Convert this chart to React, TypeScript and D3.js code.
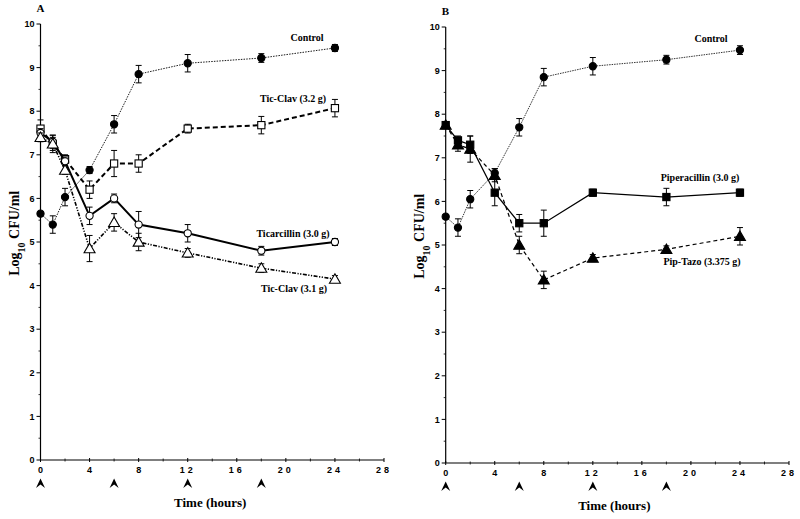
import React from "react";
import * as d3 from "d3";

const times = [0, 1, 2, 4, 6, 8, 12, 18, 24];
const doseTimes = [0, 6, 12, 18];
const xTicks = [0, 4, 8, 12, 16, 20, 24, 28];
const yTicks = [0, 1, 2, 3, 4, 5, 6, 7, 8, 9, 10];

// Panel A
const aControl = [5.65, 5.4, 6.03, 6.65, 7.7, 8.85, 9.1, 9.22, 9.45];
const aControlErr = [0.05, 0.2, 0.2, 0.08, 0.2, 0.2, 0.2, 0.1, 0.08];
const aTicClav32 = [7.6, 7.25, 6.9, 6.2, 6.8, 6.8, 7.6, 7.68, 8.07];
const aTicClav32Err = [0.2, 0.2, 0.1, 0.2, 0.3, 0.2, 0.1, 0.2, 0.2];
const aTicar = [7.5, 7.3, 6.85, 5.6, 6.0, 5.4, 5.2, 4.8, 5.0];
const aTicarErr = [0.1, 0.15, 0.1, 0.2, 0.1, 0.3, 0.2, 0.1, 0.08];
const aTicClav31 = [7.4, 7.25, 6.65, 4.85, 5.45, 5.0, 4.75, 4.4, 4.15];
const aTicClav31Err = [0.1, 0.15, 0.1, 0.3, 0.2, 0.2, 0.1, 0.1, 0.08];

// Panel B
const bControl = [5.65, 5.4, 6.05, 6.65, 7.7, 8.85, 9.1, 9.25, 9.47];
const bControlErr = [0.05, 0.2, 0.2, 0.1, 0.2, 0.2, 0.2, 0.1, 0.1];
const bPip = [7.75, 7.4, 7.3, 6.2, 5.5, 5.5, 6.2, 6.1, 6.2];
const bPipErr = [0.05, 0.1, 0.2, 0.3, 0.2, 0.3, 0.08, 0.2, 0.08];
const bPipTazo = [7.75, 7.3, 7.2, 6.6, 5.0, 4.2, 4.7, 4.9, 5.2];
const bPipTazoErr = [0.05, 0.15, 0.3, 0.15, 0.2, 0.2, 0.08, 0.08, 0.2];

type Series = {
  values: number[];
  errs: number[];
  marker: "circle" | "square" | "triangle";
  fill: string;
  dash: string;
  width: number;
  label: string;
  lx: number;
  ly: number;
};

type Panel = {
  letter: string;
  x0: number;
  x1: number;
  yTop: number;
  yBot: number;
  titleShift: number;
  series: Series[];
};

const panels: Panel[] = [
  {
    letter: "A",
    x0: 40.5,
    x1: 384,
    yTop: 24,
    yBot: 460,
    titleShift: -2,
    series: [
      { values: aControl, errs: aControlErr, marker: "circle", fill: "#000", dash: "1.5,1.2", width: 0.9, label: "Control", lx: 307, ly: 37 },
      { values: aTicClav32, errs: aTicClav32Err, marker: "square", fill: "#fff", dash: "5,3", width: 2, label: "Tic-Clav (3.2 g)", lx: 293, ly: 98 },
      { values: aTicar, errs: aTicarErr, marker: "circle", fill: "#fff", dash: "", width: 2, label: "Ticarcillin (3.0 g)", lx: 293, ly: 233 },
      { values: aTicClav31, errs: aTicClav31Err, marker: "triangle", fill: "#fff", dash: "4,1.5,1.2,1.5,1.2,1.5", width: 1.6, label: "Tic-Clav (3.1 g)", lx: 294, ly: 288 },
    ],
  },
  {
    letter: "B",
    x0: 445.7,
    x1: 789,
    yTop: 27,
    yBot: 463,
    titleShift: -3,
    series: [
      { values: bControl, errs: bControlErr, marker: "circle", fill: "#000", dash: "1.5,1", width: 0.8, label: "Control", lx: 711, ly: 38 },
      { values: bPip, errs: bPipErr, marker: "square", fill: "#000", dash: "", width: 1.3, label: "Piperacillin (3.0 g)", lx: 700, ly: 177 },
      { values: bPipTazo, errs: bPipTazoErr, marker: "triangle", fill: "#000", dash: "4,3", width: 1.2, label: "Pip-Tazo (3.375 g)", lx: 702, ly: 261 },
    ],
  },
];

const serif = "'Liberation Serif', 'Times New Roman', serif";
const sans = "'Liberation Sans', Arial, sans-serif";

function Marker({ type, x, y, fill }: { type: string; x: number; y: number; fill: string }) {
  if (type === "circle") return <circle cx={x} cy={y} r={3.6} fill={fill} stroke="#000" strokeWidth={1.1} />;
  if (type === "square") return <rect x={x - 3.6} y={y - 3.6} width={7.2} height={7.2} fill={fill} stroke="#000" strokeWidth={1.1} />;
  const sym = d3.symbol(d3.symbolTriangle, 52)();
  return <path d={sym || ""} transform={`translate(${x},${y + 1})`} fill={fill} stroke="#000" strokeWidth={1.1} />;
}

function PanelView({ p }: { p: Panel }) {
  const x = d3.scaleLinear().domain([0, 28]).range([p.x0, p.x1]);
  const y = d3.scaleLinear().domain([0, 10]).range([p.yBot, p.yTop]);
  const line = d3
    .line<number>()
    .x((_, i) => x(times[i]))
    .y((d) => y(d));
  const minorY = d3.range(0.5, 10, 1);
  const minorX = d3.range(2, 28, 4);
  const midX = (p.x0 + p.x1) / 2;
  return (
    <g>
      <text x={p.x0 - 4} y={p.yTop - 12} fontFamily={serif} fontWeight="bold" fontSize={11}>
        {p.letter}
      </text>
      <line x1={p.x0} x2={p.x0} y1={p.yTop} y2={p.yBot} stroke="#000" strokeWidth={1.2} />
      <line x1={p.x0} x2={p.x1} y1={p.yBot} y2={p.yBot} stroke="#000" strokeWidth={1.2} />
      {yTicks.map((t) => (
        <g key={"yt" + t}>
          <line x1={p.x0 - 4} x2={p.x0} y1={y(t)} y2={y(t)} stroke="#000" />
          <text x={p.x0 - 6} y={y(t)} dy="0.35em" textAnchor="end" fontFamily={sans} fontWeight="bold" fontSize={9}>
            {t}
          </text>
        </g>
      ))}
      {minorY.map((t) => (
        <line key={"ym" + t} x1={p.x0 - 2} x2={p.x0} y1={y(t)} y2={y(t)} stroke="#000" strokeWidth={0.8} />
      ))}
      {xTicks.map((t) => (
        <g key={"xt" + t}>
          <line x1={x(t)} x2={x(t)} y1={p.yBot - 2} y2={p.yBot + 2} stroke="#000" />
          <text x={x(t)} y={p.yBot + 13} textAnchor="middle" fontFamily={sans} fontWeight="bold" fontSize={9} letterSpacing={t >= 10 ? 3 : 0}>
            {t}
          </text>
        </g>
      ))}
      {minorX.map((t) => (
        <line key={"xm" + t} x1={x(t)} x2={x(t)} y1={p.yBot - 1.5} y2={p.yBot + 1.5} stroke="#000" strokeWidth={0.8} />
      ))}
      {doseTimes.map((t) => (
        <path key={"ar" + t} d="M-4.5,5 L0,-4.5 L4.5,5 L0,1.5 Z" transform={`translate(${x(t)},${p.yBot + 23})`} fill="#000" />
      ))}
      <text x={midX + p.titleShift} y={p.yBot + 47} textAnchor="middle" fontFamily={serif} fontWeight="bold" fontSize={13}>
        Time (hours)
      </text>
      <text transform={`translate(${p.x0 - 22},${y(5.2)}) rotate(-90)`} textAnchor="middle" fontFamily={serif} fontWeight="bold" fontSize={14}>
        Log
        <tspan fontSize={10} dy={6}>10</tspan>
        <tspan dy={-6}> CFU/ml</tspan>
      </text>
      {p.series.map((s, si) => (
        <g key={"s" + si}>
          <path d={line(s.values) || ""} fill="none" stroke="#000" strokeWidth={s.width} strokeDasharray={s.dash} />
          {s.values.map((v, i) => (
            <g key={"e" + i}>
              <line x1={x(times[i])} x2={x(times[i])} y1={y(v - s.errs[i])} y2={y(v + s.errs[i])} stroke="#000" strokeWidth={1} />
              <line x1={x(times[i]) - 3} x2={x(times[i]) + 3} y1={y(v - s.errs[i])} y2={y(v - s.errs[i])} stroke="#000" strokeWidth={1} />
              <line x1={x(times[i]) - 3} x2={x(times[i]) + 3} y1={y(v + s.errs[i])} y2={y(v + s.errs[i])} stroke="#000" strokeWidth={1} />
            </g>
          ))}
          {s.values.map((v, i) => (
            <Marker key={"m" + i} type={s.marker} x={x(times[i])} y={y(v)} fill={s.fill} />
          ))}
          <text x={s.lx} y={s.ly} dy="0.35em" textAnchor="middle" fontFamily={serif} fontWeight="bold" fontSize={10}>
            {s.label}
          </text>
        </g>
      ))}
    </g>
  );
}

export default function App() {
  return (
    <svg width={800} height={519} style={{ position: "absolute", left: 0, top: 0, background: "#fff" }}>
      <rect width={800} height={519} fill="#fff" />
      {panels.map((p) => (
        <PanelView key={p.letter} p={p} />
      ))}
    </svg>
  );
}
